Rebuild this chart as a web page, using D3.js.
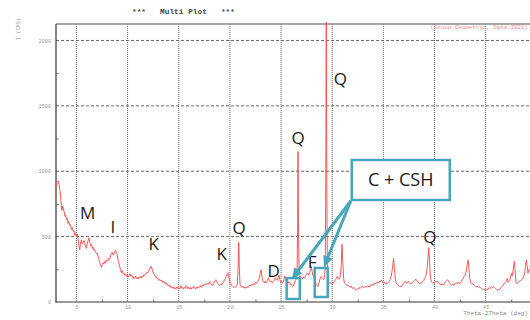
<!DOCTYPE html>
<html><head><meta charset="utf-8">
<script src="https://cdn.jsdelivr.net/npm/d3@7"></script>
<style>html,body{margin:0;padding:0;background:#fff;overflow:hidden}</style>
</head><body>
<script>
const twoTheta = [
3.00,3.10,3.22,3.30,3.38,3.46,3.52,3.58,3.66,3.72,3.80,3.88,3.95,4.02,4.10,4.18,4.26,4.34,4.42,4.51,
4.60,4.68,4.76,4.84,4.92,5.00,5.08,5.16,5.24,5.32,5.40,5.49,5.57,5.65,5.73,5.81,5.90,5.98,6.06,6.14,
6.23,6.31,6.39,6.47,6.55,6.63,6.71,6.79,6.87,6.95,7.03,7.11,7.19,7.27,7.35,7.44,7.52,7.60,7.68,7.77,
7.85,7.93,8.01,8.09,8.17,8.25,8.32,8.40,8.48,8.56,8.65,8.73,8.81,8.89,8.97,9.05,9.13,9.21,9.30,9.40,
9.48,9.56,9.64,9.72,9.80,9.88,9.96,10.05,10.13,10.21,10.30,10.38,10.46,10.54,10.62,10.70,10.78,10.86,10.95,11.03,
11.11,11.19,11.27,11.35,11.43,11.51,11.60,11.68,11.76,11.84,11.92,12.00,12.10,12.20,12.30,12.38,12.46,12.55,12.65,12.73,
12.81,12.90,12.98,13.06,13.14,13.22,13.31,13.40,13.48,13.56,13.64,13.72,13.80,13.88,13.96,14.05,14.13,14.21,14.30,14.38,
14.46,14.55,14.63,14.71,14.80,14.88,14.96,15.05,15.13,15.21,15.30,15.38,15.46,15.55,15.63,15.71,15.80,15.88,15.96,16.05,
16.13,16.21,16.30,16.38,16.46,16.55,16.63,16.71,16.80,16.88,16.96,17.05,17.13,17.21,17.30,17.38,17.46,17.55,17.63,17.71,
17.80,17.88,17.96,18.05,18.13,18.21,18.30,18.38,18.46,18.55,18.63,18.71,18.80,18.88,18.96,19.05,19.13,19.21,19.30,19.38,
19.46,19.55,19.63,19.72,19.80,19.88,19.96,20.05,20.13,20.21,20.30,20.38,20.46,20.55,20.64,20.72,20.80,20.86,20.92,20.99,
21.07,21.15,21.23,21.31,21.40,21.48,21.56,21.64,21.72,21.80,21.88,21.96,22.05,22.13,22.21,22.30,22.38,22.46,22.55,22.63,
22.71,22.80,22.88,22.96,23.04,23.12,23.20,23.28,23.36,23.44,23.52,23.60,23.68,23.76,23.84,23.92,24.00,24.08,24.16,24.24,
24.32,24.40,24.48,24.56,24.64,24.72,24.80,24.88,24.96,25.04,25.12,25.20,25.28,25.36,25.44,25.52,25.60,25.68,25.76,25.84,
25.92,26.00,26.08,26.16,26.24,26.32,26.40,26.48,26.56,26.62,26.66,26.70,26.76,26.84,26.92,27.00,27.08,27.16,27.24,27.32,
27.40,27.48,27.56,27.64,27.72,27.80,27.88,27.96,28.04,28.12,28.20,28.28,28.36,28.44,28.52,28.60,28.68,28.76,28.84,28.92,
29.00,29.08,29.16,29.24,29.32,29.37,29.42,29.47,29.53,29.60,29.68,29.76,29.84,29.92,30.00,30.08,30.16,30.24,30.32,30.40,
30.48,30.56,30.64,30.72,30.80,30.88,30.96,31.04,31.12,31.20,31.28,31.36,31.44,31.52,31.60,31.68,31.76,31.84,31.92,32.00,
32.08,32.16,32.24,32.32,32.40,32.48,32.56,32.64,32.72,32.80,32.88,32.96,33.04,33.12,33.20,33.28,33.36,33.44,33.52,33.60,
33.68,33.76,33.84,33.92,34.00,34.08,34.16,34.24,34.32,34.40,34.48,34.56,34.64,34.72,34.80,34.88,34.96,35.04,35.12,35.20,
35.28,35.36,35.44,35.52,35.60,35.68,35.76,35.84,35.92,36.00,36.08,36.16,36.24,36.32,36.40,36.48,36.56,36.64,36.72,36.80,
36.88,36.96,37.04,37.12,37.20,37.28,37.36,37.44,37.52,37.60,37.68,37.76,37.84,37.92,38.00,38.08,38.16,38.24,38.32,38.40,
38.48,38.56,38.64,38.72,38.80,38.88,38.96,39.04,39.12,39.20,39.28,39.36,39.44,39.52,39.60,39.68,39.76,39.84,39.92,40.00,
40.08,40.16,40.24,40.32,40.40,40.48,40.56,40.64,40.72,40.80,40.88,40.96,41.04,41.12,41.20,41.28,41.36,41.44,41.52,41.60,
41.68,41.76,41.84,41.92,42.00,42.08,42.16,42.24,42.32,42.40,42.48,42.56,42.64,42.72,42.80,42.88,42.96,43.04,43.12,43.20,
43.28,43.36,43.44,43.52,43.60,43.68,43.76,43.84,43.92,44.00,44.08,44.16,44.24,44.32,44.40,44.48,44.56,44.64,44.72,44.80,
44.88,44.96,45.04,45.12,45.20,45.28,45.36,45.44,45.52,45.60,45.68,45.76,45.84,45.92,46.00,46.08,46.16,46.24,46.32,46.40,
46.48,46.56,46.64,46.72,46.80,46.88,46.96,47.04,47.12,47.20,47.36,47.52,47.60,47.70,47.80,47.88,47.96,48.04,48.12,48.20,
48.30,48.40,48.50,48.60,48.70,48.80,48.90,48.98,49.06,49.14,49.22,49.32,49.40
];
const intensity = [
880,915,925,895,860,800,740,700,735,712,690,655,665,630,640,600,615,585,590,555,
570,540,545,510,525,500,520,485,430,398,450,475,445,455,470,455,420,410,445,470,
490,455,430,440,410,420,395,400,380,370,375,350,330,300,285,265,285,300,290,310,
300,315,325,315,335,330,345,370,380,360,365,385,395,380,365,330,300,275,250,225,
240,215,220,205,215,195,205,190,200,215,200,208,190,195,178,185,198,180,188,175,
190,182,195,185,200,192,210,205,215,225,220,232,245,260,272,255,230,215,205,190,
195,178,180,165,172,160,168,150,160,148,152,138,145,128,132,120,128,112,118,105,
115,102,110,98,115,105,112,100,108,125,105,112,98,110,105,125,118,102,112,100,
110,98,112,105,120,108,100,112,105,118,110,115,125,112,128,120,135,128,140,132,
142,135,150,155,140,132,128,138,150,162,170,158,142,135,128,132,138,130,145,152,
168,178,195,215,225,200,165,140,130,125,118,110,118,112,120,135,250,455,260,135,
118,112,120,108,115,105,112,108,118,112,125,130,122,135,128,140,132,145,150,142,
155,165,185,215,245,205,170,155,148,160,145,150,172,185,165,155,162,150,148,158,
165,178,185,180,165,190,205,170,150,158,145,150,170,200,175,160,150,158,145,150,
135,140,125,118,130,145,165,175,200,600,1150,620,205,190,195,185,178,190,182,188,
200,210,222,215,205,225,250,272,230,200,192,170,150,140,128,118,135,160,185,195,
185,178,170,185,260,900,2140,950,230,165,150,142,148,138,145,140,150,160,170,180,
195,185,175,180,205,280,440,300,180,145,140,132,128,120,125,118,112,122,110,105,
112,100,95,90,95,102,98,108,112,105,115,120,112,118,110,120,115,125,118,122,
115,128,135,128,138,132,145,140,148,142,155,148,160,152,165,158,150,142,150,140,
148,138,145,150,160,172,195,230,280,335,260,180,148,140,130,125,118,122,115,120,
128,140,150,158,150,142,150,160,148,140,145,138,148,155,162,170,175,168,160,152,
145,140,148,142,150,158,165,180,195,215,260,330,415,300,190,160,150,142,150,145,
155,160,152,158,148,140,132,140,130,135,128,140,150,158,165,170,162,150,140,135,
128,132,128,138,135,142,148,140,145,150,142,150,160,170,180,195,200,215,240,285,
320,260,185,150,140,138,142,130,125,118,122,115,120,112,118,110,105,100,95,100,
92,95,90,98,92,105,110,102,112,118,110,118,112,105,100,95,90,95,92,100,
108,115,122,130,140,148,155,165,180,150,165,219,200,250,310,240,150,140,145,150,
160,165,168,175,190,220,280,320,270,220,245,250,235
];
const xTicks = [5,10,15,20,25,30,35,40,45];
const xMinor = [7.5,12.5,17.5,22.5,27.5,32.5,37.5,42.5,47.5];
const yTicks = [0,500,1000,1500,2000];
const yMinor = [250,750,1250,1750];
const phaseLabels = ["M","I","K","K","Q","D","Q","F","Q","Q"];
const phaseAngle  = [6.1, 8.55, 12.56, 19.2, 20.9, 24.29, 26.68, 28.05, 30.79, 39.54];
const phaseCount  = [635, 527, 398, 321, 520, 191, 1208, 260, 1659, 451];
const calloutText = "C + CSH";
const calloutAngle = [31.91, 41.49];
const calloutCount = [780, 1086];
const boxAngle = [[25.55, 26.83], [28.29, 29.56]];
const boxCount = [[23, 183], [38, 260]];
const arrowTipAngle = [26.05, 29.19];
const arrowTipCount = [175, 268];

const W = 530, H = 320;
const svg = d3.select("body").append("svg").attr("width", W).attr("height", H)
  .style("display","block").style("background","#fff");

const x = d3.scaleLinear().domain([3, 50]).range([56, 536.8]);
const y = d3.scaleLinear().domain([0, 2125]).range([302, 24.1]);
const teal = "#47a6ba";
const mono = "'Liberation Mono','DejaVu Sans Mono',monospace";

// grid
svg.append("g").selectAll("line").data(yTicks.filter(d => d > 0)).join("line")
  .attr("x1", 56).attr("x2", W).attr("y1", d => y(d)).attr("y2", d => y(d))
  .attr("stroke", "#555").attr("stroke-width", 0.9).attr("stroke-dasharray", "3,2");
svg.append("g").selectAll("line").data(xTicks).join("line")
  .attr("x1", d => x(d)).attr("x2", d => x(d)).attr("y1", 24).attr("y2", 302)
  .attr("stroke", "#555").attr("stroke-width", 0.9).attr("stroke-dasharray", "1,1");

// frame
svg.append("line").attr("x1", 56).attr("x2", W).attr("y1", 24).attr("y2", 24)
  .attr("stroke", "#888").attr("stroke-width", 1.5);
svg.append("line").attr("x1", 56).attr("x2", 56).attr("y1", 24).attr("y2", 302.5)
  .attr("stroke", "#333").attr("stroke-width", 1.2);
svg.append("line").attr("x1", 55.5).attr("x2", W).attr("y1", 302).attr("y2", 302)
  .attr("stroke", "#333").attr("stroke-width", 1.2);

// axes labels
const yAxis = svg.append("g").attr("transform", "translate(56,0)")
  .call(d3.axisLeft(y).tickValues(yTicks).tickSize(0).tickPadding(5).tickFormat(d3.format("d")));
yAxis.select(".domain").remove();
yAxis.selectAll("text").attr("font-family", mono).attr("font-size", 5.2).attr("fill", "#999");
const yMin = svg.append("g").attr("transform", "translate(56,0)")
  .call(d3.axisLeft(y).tickValues(yMinor).tickSize(-2.5).tickFormat(""));
yMin.select(".domain").remove();
yMin.selectAll("line").attr("stroke", "#666");

const xAxis = svg.append("g").attr("transform", "translate(0,302)")
  .call(d3.axisBottom(x).tickValues(xTicks).tickSize(0).tickPadding(3));
xAxis.select(".domain").remove();
xAxis.selectAll("text").attr("font-family", mono).attr("font-size", 5.2).attr("fill", "#999");
const xMin = svg.append("g").attr("transform", "translate(0,302)")
  .call(d3.axisBottom(x).tickValues(xMinor).tickSize(-2.5).tickFormat(""));
xMin.select(".domain").remove();
xMin.selectAll("line").attr("stroke", "#666");

svg.append("text").attr("x", 528).attr("y", 314.5).attr("text-anchor", "end").text("Theta-2Theta (deg)")
  .attr("font-family", mono).attr("font-size", 6).attr("fill", "#888");
svg.append("text").attr("transform", "translate(20,29) rotate(-90)").attr("text-anchor", "middle")
  .text("I (CPS)").attr("font-family", mono).attr("font-size", 5.2).attr("fill", "#999");
svg.append("text").attr("x", 132).attr("y", 13.5).text("***   Multi Plot   ***")
  .attr("font-family", mono).attr("font-size", 7.8).attr("font-weight", "bold").attr("fill", "#444")
  .attr("xml:space", "preserve").style("white-space", "pre");
svg.append("text").attr("x", 528).attr("y", 28.5).attr("text-anchor", "end").text("(Group:Geometric, Data:1021)")
  .attr("font-family", mono).attr("font-size", 5.8).attr("fill", "#f08a8a");

// trace
const pts = twoTheta.map((t, i) => [t, intensity[i]]);
svg.append("path").datum(pts)
  .attr("d", d3.line().x(d => x(d[0])).y(d => y(d[1])))
  .attr("fill", "none").attr("stroke", "#f24646").attr("stroke-width", 0.9).attr("stroke-linejoin", "round");

// phase letters
svg.append("g").selectAll("text").data(phaseLabels).join("text")
  .attr("x", (d, i) => x(phaseAngle[i])).attr("y", (d, i) => y(phaseCount[i]))
  .attr("text-anchor", "middle").text(d => d)
  .attr("font-family", "'Open Sans',sans-serif").attr("font-size", 17).attr("fill", "#1a1a1a");

// highlight boxes
svg.append("g").selectAll("rect").data(boxAngle).join("rect")
  .attr("x", d => x(d[0])).attr("width", d => x(d[1]) - x(d[0]))
  .attr("y", (d, i) => y(boxCount[i][1])).attr("height", (d, i) => y(boxCount[i][0]) - y(boxCount[i][1]))
  .attr("fill", "none").attr("stroke", teal).attr("stroke-width", 2.5);

// arrows
const sx = x(calloutAngle[0]) - 1, sy = y(calloutCount[0]) + 1;
arrowTipAngle.forEach((a, i) => {
  const tx = x(a), ty = y(arrowTipCount[i]);
  const dx = tx - sx, dy = ty - sy, L = Math.hypot(dx, dy);
  const ux = dx / L, uy = dy / L, nx = -uy, ny = ux;
  svg.append("line").attr("x1", sx).attr("y1", sy).attr("x2", tx - ux * 8).attr("y2", ty - uy * 8)
    .attr("stroke", teal).attr("stroke-width", 3);
  svg.append("path").attr("d", `M${tx},${ty}L${tx - ux*11 + nx*5},${ty - uy*11 + ny*5}L${tx - ux*11 - nx*5},${ty - uy*11 - ny*5}Z`)
    .attr("fill", teal);
});

// callout box
const bx0 = x(calloutAngle[0]), bx1 = x(calloutAngle[1]);
const by0 = y(calloutCount[1]), by1 = y(calloutCount[0]);
svg.append("rect").attr("x", bx0).attr("y", by0).attr("width", bx1 - bx0).attr("height", by1 - by0)
  .attr("fill", "#fff").attr("stroke", teal).attr("stroke-width", 2.5);
svg.append("text").attr("x", (bx0 + bx1) / 2).attr("y", (by0 + by1) / 2 + 6.5).attr("text-anchor", "middle")
  .text(calloutText).attr("font-family", "'Open Sans',sans-serif").attr("font-size", 18).attr("fill", "#1a1a1a");
</script>
</body></html>
